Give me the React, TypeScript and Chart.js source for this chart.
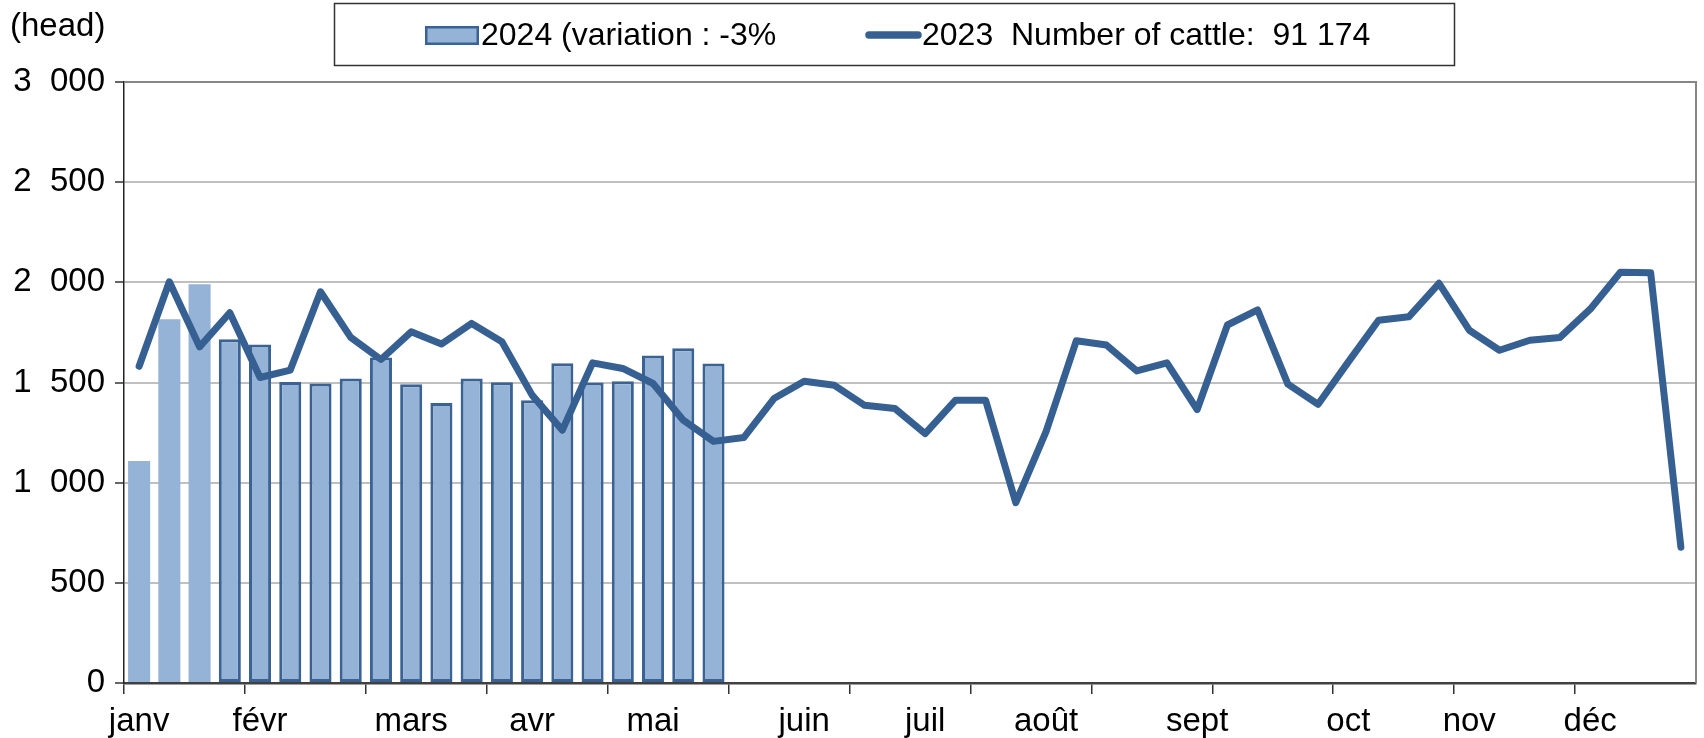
import React, { useEffect, useRef } from "react";
import { Chart, registerables } from "chart.js";

Chart.register(...registerables);

const FONT_FAMILY = '"Liberation Sans", Arial, sans-serif';

// Category axis: 52 weeks, month names at the week where each month starts
const monthLabels = ["janv", "févr", "mars", "avr", "mai", "juin", "juil", "août", "sept", "oct", "nov", "déc"];
const monthStartWeek = [0, 4, 9, 13, 17, 22, 26, 30, 35, 40, 44, 48];
const weekCount = 52;

// 2024 weekly (bars, first 20 weeks)
const values2024 = [
  1108, 1816, 1991, 1716, 1690, 1503, 1495, 1520, 1625, 1491,
  1398, 1520, 1501, 1411, 1596, 1500, 1506, 1635, 1671, 1595,
];
// Bars without outline (first three weeks)
const outlinedFrom = 3;

// 2023 weekly (line)
const values2023 = [
  1581, 2003, 1678, 1848, 1525, 1562, 1953, 1725, 1615, 1753,
  1692, 1795, 1703, 1437, 1262, 1598, 1570, 1495, 1312, 1206,
  1225, 1420, 1506, 1486, 1386, 1370, 1245, 1411, 1411, 900,
  1255, 1708, 1687, 1558, 1598, 1365, 1787, 1862, 1492, 1391,
  1603, 1811, 1828, 1995, 1761, 1661, 1711, 1725, 1866, 2050,
  2048, 678,
];

const legend2024 = "2024 (variation : -3%";
const legend2023 = "2023  Number of cattle:  91 174";
const unitLabel = "(head)";

const yMin = 0;
const yMax = 3000;
const yStep = 500;

const BAR_FILL = "#95B3D7";
const BAR_BORDER = "#3A6394";
const LINE_COLOR = "#366092";

function formatThousands(v: number): string {
  if (v >= 1000) {
    const th = Math.floor(v / 1000);
    const rest = String(v % 1000).padStart(3, "0");
    return `${th}  ${rest}`;
  }
  return String(v);
}

const decorPlugin = {
  id: "decor",
  afterDraw(chart: any) {
    const ctx = chart.ctx as CanvasRenderingContext2D;
    const area = chart.chartArea;
    ctx.save();
    // plot frame top & right
    ctx.strokeStyle = "#868686";
    ctx.lineWidth = 2;
    ctx.beginPath();
    ctx.moveTo(area.left, area.top);
    ctx.lineTo(area.right, area.top);
    ctx.lineTo(area.right, area.bottom);
    ctx.stroke();

    // unit label
    ctx.fillStyle = "#000";
    ctx.font = `33px ${FONT_FAMILY}`;
    ctx.textBaseline = "middle";
    ctx.textAlign = "left";
    ctx.fillText(unitLabel, 10, 27);

    // legend box
    ctx.strokeStyle = "#333";
    ctx.lineWidth = 1.5;
    ctx.strokeRect(334.5, 3.5, 1120, 62);

    // bar swatch
    ctx.fillStyle = BAR_FILL;
    ctx.fillRect(425, 26, 54, 19);
    ctx.strokeStyle = BAR_BORDER;
    ctx.lineWidth = 2.5;
    ctx.strokeRect(426.25, 27.25, 51.5, 16.5);
    ctx.fillStyle = "#000";
    ctx.font = `32px ${FONT_FAMILY}`;
    ctx.fillText(legend2024, 481, 36);

    // line swatch
    ctx.strokeStyle = LINE_COLOR;
    ctx.lineWidth = 7.5;
    ctx.lineCap = "round";
    ctx.beginPath();
    ctx.moveTo(869, 35);
    ctx.lineTo(918, 35);
    ctx.stroke();
    ctx.fillStyle = "#000";
    ctx.fillText(legend2023, 922, 36);
    ctx.restore();
  },
};

export default function App() {
  const canvasRef = useRef<HTMLCanvasElement | null>(null);

  useEffect(() => {
    const canvas = canvasRef.current;
    if (!canvas) return;

    const categories: string[] = [];
    for (let i = 0; i < weekCount; i++) {
      const m = monthStartWeek.indexOf(i);
      categories.push(m >= 0 ? monthLabels[m] : "");
    }

    const chart = new Chart(canvas, {
      type: "bar",
      data: {
        labels: categories,
        datasets: [
          {
            type: "line",
            label: legend2023,
            data: values2023,
            borderColor: LINE_COLOR,
            backgroundColor: LINE_COLOR,
            borderWidth: 7,
            pointRadius: 0,
            tension: 0,
            borderJoinStyle: "round",
            borderCapStyle: "round",
            order: 0,
          } as any,
          {
            type: "bar",
            label: legend2024,
            data: values2024,
            backgroundColor: BAR_FILL,
            borderColor: BAR_BORDER,
            borderWidth: values2024.map((_, i) => (i >= outlinedFrom ? 3 : 0)),
            borderSkipped: false,
            barPercentage: 0.73,
            categoryPercentage: 1,
            order: 1,
          } as any,
        ],
      },
      options: {
        responsive: false,
        devicePixelRatio: 1,
        animation: false,
        layout: { padding: { top: 82, right: 8, left: 0, bottom: 0 } },
        plugins: {
          legend: { display: false },
          tooltip: { enabled: false },
        },
        scales: {
          x: {
            type: "category",
            offset: true,
            afterFit: (scale: any) => {
              scale.height = 55;
            },
            grid: {
              offset: true,
              drawOnChartArea: false,
              drawTicks: true,
              tickLength: 11,
              lineWidth: 1.5,
              color: (c: any) => (c.index % 4 === 0 ? "#333" : "rgba(0,0,0,0)"),
            },
            border: { display: true, color: "#404040", width: 2.5 },
            ticks: {
              autoSkip: false,
              maxRotation: 0,
              minRotation: 0,
              padding: 8,
              color: "#000",
              font: { family: FONT_FAMILY, size: 33 },
            },
          },
          y: {
            min: yMin,
            max: yMax,
            afterFit: (scale: any) => {
              scale.width = 124;
            },
            grid: {
              color: (c: any) => (c.tick && c.tick.value === yMax ? "#868686" : "#C0C0C0"),
              lineWidth: 2,
              tickLength: 9,
              tickColor: "#333",
              tickWidth: 1.5,
            },
            border: { display: true, color: "#222", width: 1.5 },
            ticks: {
              stepSize: yStep,
              padding: 10,
              color: "#000",
              font: { family: FONT_FAMILY, size: 33 },
              callback: (v: any) => formatThousands(Number(v)),
            },
          },
        },
      } as any,
      plugins: [decorPlugin],
    });

    return () => {
      chart.destroy();
    };
  }, []);

  return (
    <div style={{ position: "absolute", left: 0, top: 0, width: 1704, height: 738, background: "#fff" }}>
      <canvas ref={canvasRef} width={1704} height={738} style={{ display: "block" }} />
    </div>
  );
}
